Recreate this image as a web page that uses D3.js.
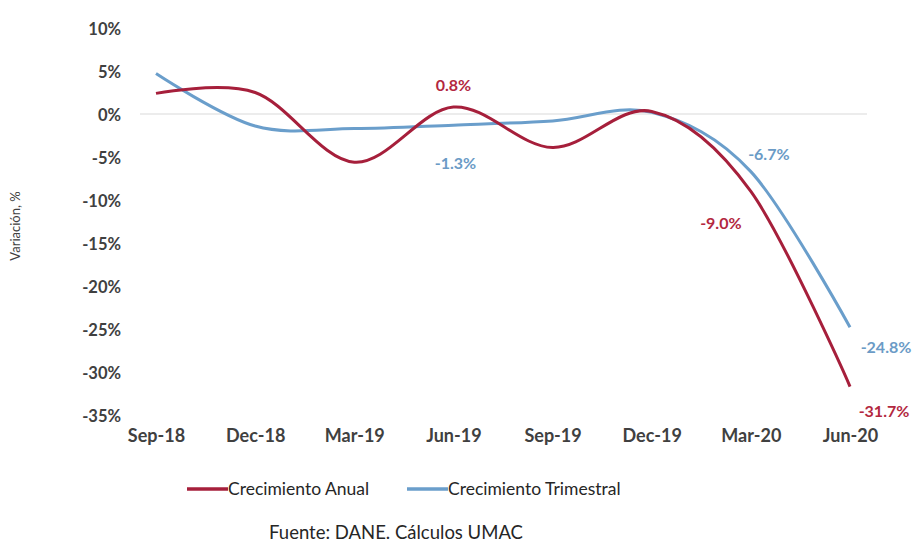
<!DOCTYPE html>
<html>
<head>
<meta charset="utf-8">
<script src="https://cdn.jsdelivr.net/npm/d3@7"></script>
<style>
  body { margin: 0; background: #fff; }
  text { font-family: Lato, "Open Sans", sans-serif; }
</style>
</head>
<body>
<div id="chart"></div>
<script>
// data
var categories = ["Sep-18", "Dec-18", "Mar-19", "Jun-19", "Sep-19", "Dec-19", "Mar-20", "Jun-20"];
var anual = [2.4, 2.5, -5.6, 0.8, -3.9, 0.3, -9.0, -31.7];
var trimestral = [4.7, -1.4, -1.7, -1.3, -0.8, 0.2, -6.7, -24.8];
var yTicks = [10, 5, 0, -5, -10, -15, -20, -25, -30, -35];
// which points carry a data label, and where it sits (dx, dy from point)
var anualLabels = [{i: 3, dx: 0, dy: -22}, {i: 6, dx: -30, dy: 32}, {i: 7, dx: 34, dy: 25}];
var trimLabels = [{i: 3, dx: 2, dy: 38}, {i: 6, dx: 18, dy: -17}, {i: 7, dx: 36, dy: 20}];

var red = "#a61f3b", redText = "#b3283f";
var blue = "#6a9ecb", blueText = "#6b9bc6";

var width = 921, height = 544;

var svg = d3.select("#chart")
    .append("svg")
    .attr("width", width)
    .attr("height", height);

var x = d3.scalePoint()
    .domain(categories)
    .range([156, 850]);

var y = d3.scaleLinear()
    .domain([-35, 10])
    .range([415, 28]);

// zero line
svg.append("line")
    .attr("x1", 140).attr("x2", 867)
    .attr("y1", y(0)).attr("y2", y(0))
    .attr("stroke", "#d9d9d9")
    .attr("stroke-width", 1);

// y axis labels
var yAxis = svg.append("g")
    .attr("transform", "translate(121,0)")
    .call(d3.axisLeft(y).tickValues(yTicks).tickSize(0).tickPadding(0)
        .tickFormat(function(d) { return d + "%"; }));
yAxis.select(".domain").remove();
yAxis.selectAll("text")
    .attr("dy", "0.4em")
    .style("font-size", "16.5px")
    .style("font-weight", "bold")
    .style("fill", "#404040");

// x axis labels
var xAxis = svg.append("g")
    .attr("transform", "translate(0,428)")
    .call(d3.axisBottom(x).tickSize(0).tickPadding(0));
xAxis.select(".domain").remove();
xAxis.selectAll("text")
    .attr("dy", "0.8em")
    .style("font-size", "18px")
    .style("font-weight", "bold")
    .style("fill", "#404040");

// y axis title
svg.append("text")
    .attr("transform", "translate(20,226) rotate(-90)")
    .style("text-anchor", "middle")
    .style("font-size", "13px")
    .style("fill", "#404040")
    .text("Variación, %");

var line = d3.line()
    .x(function(d, i) { return x(categories[i]); })
    .y(function(d) { return y(d); })
    .curve(d3.curveCardinal.tension(0));

svg.append("path")
    .datum(trimestral)
    .attr("d", line)
    .attr("fill", "none")
    .attr("stroke", blue)
    .attr("stroke-width", 3);

svg.append("path")
    .datum(anual)
    .attr("d", line)
    .attr("fill", "none")
    .attr("stroke", red)
    .attr("stroke-width", 3);

function fmt(v) { return v.toFixed(1) + "%"; }

svg.selectAll(".lblA")
    .data(anualLabels)
    .enter()
    .append("text")
    .attr("x", function(d) { return x(categories[d.i]) + d.dx; })
    .attr("y", function(d) { return y(anual[d.i]) + d.dy; })
    .attr("dy", "0.35em")
    .style("text-anchor", "middle")
    .style("font-size", "16px")
    .style("font-weight", "bold")
    .style("fill", redText)
    .text(function(d) { return fmt(anual[d.i]); });

svg.selectAll(".lblT")
    .data(trimLabels)
    .enter()
    .append("text")
    .attr("x", function(d) { return x(categories[d.i]) + d.dx; })
    .attr("y", function(d) { return y(trimestral[d.i]) + d.dy; })
    .attr("dy", "0.35em")
    .style("text-anchor", "middle")
    .style("font-size", "16px")
    .style("font-weight", "bold")
    .style("fill", blueText)
    .text(function(d) { return fmt(trimestral[d.i]); });

// legend
var legend = [
    {name: "Crecimiento Anual", color: red, x: 187},
    {name: "Crecimiento Trimestral", color: blue, x: 407}
];
var lg = svg.selectAll(".legend")
    .data(legend)
    .enter()
    .append("g")
    .attr("transform", function(d) { return "translate(" + d.x + ",489)"; });
lg.append("line")
    .attr("x1", 0).attr("x2", 41)
    .attr("stroke", function(d) { return d.color; })
    .attr("stroke-width", 3.5);
lg.append("text")
    .attr("x", 41)
    .attr("dy", "0.35em")
    .style("font-size", "17.5px")
    .style("fill", "#262626")
    .text(function(d) { return d.name; });

// source
svg.append("text")
    .attr("x", 396)
    .attr("y", 533)
    .attr("dy", "0.35em")
    .style("text-anchor", "middle")
    .style("font-size", "18.5px")
    .style("fill", "#262626")
    .text("Fuente: DANE. Cálculos UMAC");
</script>
</body>
</html>
